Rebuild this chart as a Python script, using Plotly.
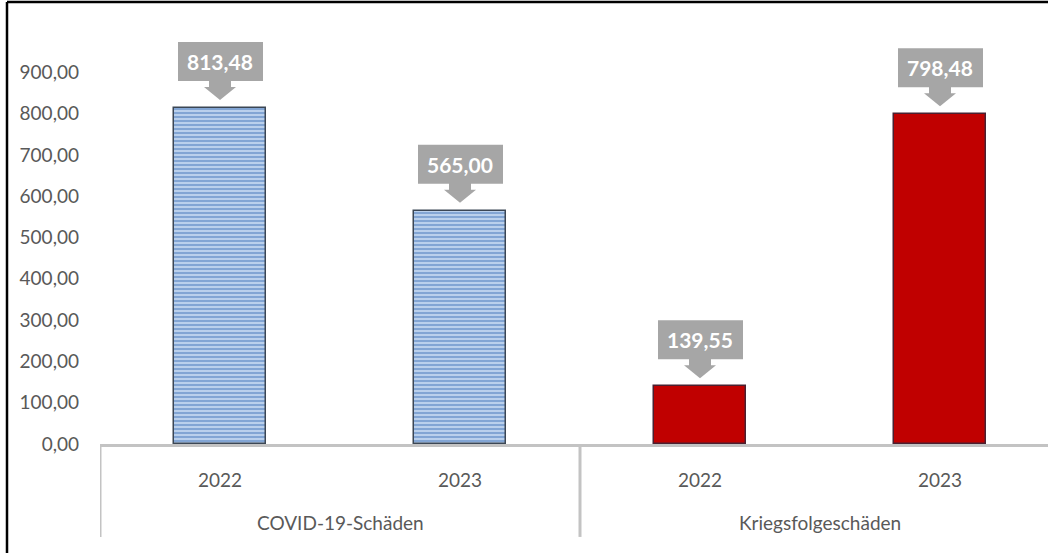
import plotly.graph_objects as go

groups = ["COVID-19-Schäden", "COVID-19-Schäden", "Kriegsfolgeschäden", "Kriegsfolgeschäden"]
years = ["2022", "2023", "2022", "2023"]
values = [813.48, 565.00, 139.55, 798.48]
y_ticks = [0, 100, 200, 300, 400, 500, 600, 700, 800, 900]

FONT = "Lato"
TXT = "#595959"
GRAY_AX = "#c3c3c3"
CALLOUT = "#a6a6a6"

pos = list(range(len(values)))
labels = [f"{v:,.2f}".replace(",", "X").replace(".", ",").replace("X", ".") for v in values]

fig = go.Figure()

# COVID bars: striped blue
fig.add_trace(go.Bar(
    x=pos[:2], y=values[:2], width=0.38,
    marker=dict(
        color="#b9cfee",
        line=dict(color="#3b4654", width=1.5),
        pattern=dict(shape="-", fgcolor="#3c70b6", bgcolor="#c8daf2", size=4, solidity=0.6),
    ),
    showlegend=False,
))
# war bars: red
fig.add_trace(go.Bar(
    x=pos[2:], y=values[2:], width=0.38,
    marker=dict(color="#c00000", line=dict(color="#4a2030", width=1.5)),
    showlegend=False,
))

# data label callouts (gray box with down arrow)
callout_path = ("M -42 27 L -42 66 L 43 66 L 43 27 L 11 27 L 11 21 L 16 21 "
                "L 0 8 L -16 21 L -11 21 L -11 27 Z")
for i, v, lab in zip(pos, values, labels):
    fig.add_shape(type="path", xref="x", yref="y", xsizemode="pixel", ysizemode="pixel",
                  xanchor=i, yanchor=v, path=callout_path,
                  fillcolor=CALLOUT, line=dict(width=0), layer="above")
    fig.add_annotation(x=i, y=v, yshift=46.5, text=f"<b>{lab}</b>", showarrow=False,
                       yanchor="middle", font=dict(family=FONT, size=21, color="white"))

# two-level category axis
for i, yr in zip(pos, years):
    fig.add_annotation(x=i, y=0, yref="paper", yshift=-35, text=yr, showarrow=False,
                       yanchor="middle", font=dict(family=FONT, size=19, color=TXT))
group_names = list(dict.fromkeys(groups))
for g in group_names:
    idx = [i for i, gg in zip(pos, groups) if gg == g]
    fig.add_annotation(x=sum(idx) / len(idx), y=0, yref="paper", yshift=-78, text=g,
                       showarrow=False, yanchor="middle",
                       font=dict(family=FONT, size=19, color=TXT))
for xs in [-0.5, 1.5, 3.5]:
    fig.add_shape(type="line", xref="x", yref="paper", x0=xs, x1=xs, y0=0, y1=-0.225,
                  line=dict(color=GRAY_AX, width=3))

# outer chart frame (only top/left visible)
fig.add_shape(type="line", xref="paper", yref="paper", x0=-0.0981, x1=1.1, y0=1.0702, y1=1.0702,
              line=dict(color="black", width=2.5))
fig.add_shape(type="line", xref="paper", yref="paper", x0=-0.0981, x1=-0.0981, y0=1.0702, y1=-0.35,
              line=dict(color="black", width=2.5))

fig.update_layout(
    width=1048, height=553,
    margin=dict(l=100, r=0, t=31, b=109),
    paper_bgcolor="white", plot_bgcolor="white",
    separators=",.",
    bargap=0,
    font=dict(family=FONT, color=TXT),
)
fig.update_xaxes(range=[-0.5, 3.45], showticklabels=False, showgrid=False, zeroline=False,
                 showline=True, linecolor=GRAY_AX, linewidth=2.5)
fig.update_yaxes(range=[0, 1000], tickvals=y_ticks, tickformat=".2f", showgrid=False,
                 zeroline=False, showline=False, ticklabelstandoff=20,
                 tickfont=dict(family=FONT, size=19, color=TXT))

# drop the default page margin so the figure sits at the window's top-left corner
fig.write_html("out.html", config={"displayModeBar": False},
               post_script="document.body.style.margin='0px';")
